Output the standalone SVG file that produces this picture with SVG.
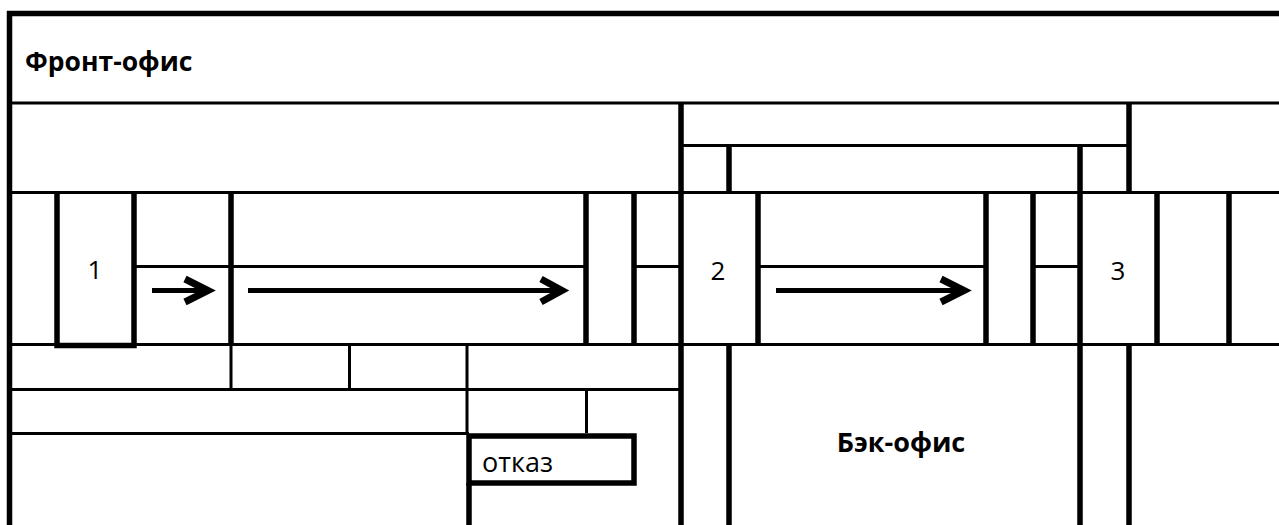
<svg xmlns="http://www.w3.org/2000/svg" width="1279" height="525" viewBox="0 0 1279 525">
<style>
.thin{stroke:#000;stroke-width:3;fill:none}
.thick{stroke:#000;stroke-width:5.5;fill:none}
.t{font-family:"Open Sans","Liberation Sans",sans-serif;fill:#000}
.b{font-weight:bold}
.arr{stroke:#000;stroke-width:5;fill:none}
.head{stroke:#000;stroke-width:7;fill:none;stroke-linejoin:miter}
</style>
<rect width="1279" height="525" fill="#fff"/>
<g id="grid">
<path class="thin" d="M9 103H1279M681 145.5H1129M9 192.5H1279M134 266.5H586M634 266.5H681M758 266.5H986M1033 266.5H1080M9 344.5H1279M9 389.5H681M9 433.5H469M231 344V389M349.5 344V389M467 344V433M586.5 389V433"/>
<path class="thick" d="M9.5 11V525M7 13.5H1279M231 192V344M586 192V344M634 192V344M681 103V525M729 145V192M729 344V525M758 192V344M986 192V344M1033 192V344M1080 145V525M1129 103V192M1129 344V525M1157 192V344M1229 192V344M469 483V525"/>
</g>
<g id="front-office"><text class="t b" x="25" y="71" font-size="26.5">Фронт-офис</text></g>
<g id="back-office"><text class="t b" x="901" y="452" font-size="27" text-anchor="middle">Бэк-офис</text></g>
<g id="node-1"><path class="thick" d="M57 192V345.5H134V192"/><text class="t" x="95" y="279" font-size="26" text-anchor="middle">1</text></g>
<g id="node-2"><text class="t" x="718" y="280" font-size="26" text-anchor="middle">2</text></g>
<g id="node-3"><text class="t" x="1118" y="280" font-size="26" text-anchor="middle">3</text></g>
<g id="node-otkaz"><rect class="thick" x="469" y="436" width="165" height="47"/><text class="t" x="482" y="472" font-size="27">отказ</text></g>
<g id="connectors">
<path class="arr" d="M152 290.5H207"/><path class="head" d="M185 279L208 290.5L185 302"/>
<path class="arr" d="M248 290.5H560"/><path class="head" d="M541 279L562 290.5L541 302"/>
<path class="arr" d="M776 290.5H962"/><path class="head" d="M941 279L964 290.5L941 302"/>
</g>
</svg>
